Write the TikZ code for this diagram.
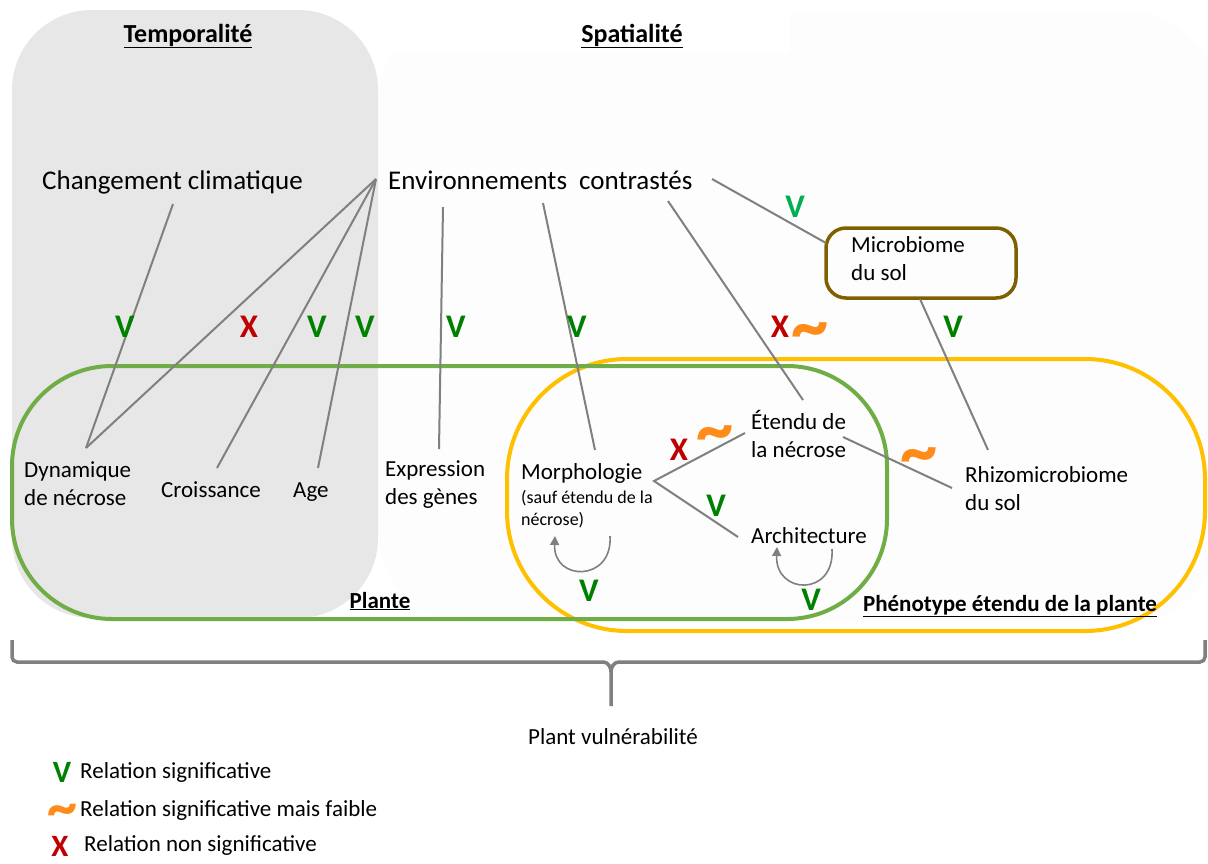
\documentclass[tikz,border=0pt]{standalone}
\usepackage{fontspec}
\setmainfont{Carlito}
\usetikzlibrary{arrows.meta}
\definecolor{tgrey}{HTML}{E7E7E7}
\definecolor{sgrey}{HTML}{FDFDFD}
\definecolor{pgreen}{HTML}{70AD47}
\definecolor{pyellow}{HTML}{FFC000}
\definecolor{mbrown}{HTML}{7F6000}
\definecolor{lgrey}{HTML}{808080}
\definecolor{vgreen}{HTML}{008000}
\definecolor{vlgreen}{HTML}{00B050}
\definecolor{xred}{HTML}{C00000}
\definecolor{worange}{HTML}{FF8C1A}
\newcommand{\wavemark}[1]{\raisebox{-#1}[6pt][6pt]{\scalebox{1.2}[1.25]{\char`\~}}}
\begin{document}
\begin{tikzpicture}[x=1pt,y=-1pt,
  lbl/.style={inner sep=0pt, anchor=west, align=left, font=\fontsize{23}{28}\selectfont},
  lblb/.style={inner sep=0pt, anchor=base west, font=\fontsize{23}{28}\selectfont},
  small/.style={inner sep=0pt, anchor=west, align=left, font=\fontsize{18}{22}\selectfont},
  big/.style={inner sep=0pt, anchor=base west, font=\fontsize{27}{32}\selectfont},
  ttl/.style={inner sep=0pt, anchor=base, font=\fontsize{26}{30}\selectfont\bfseries},
  ttlb/.style={inner sep=0pt, anchor=base, font=\fontsize{23}{28}\selectfont\bfseries},
  link/.style={draw=lgrey, line width=2pt},
  loopar/.style={draw=lgrey, line width=1.6pt, -{Triangle[length=9pt,width=9pt]}},
  sv/.style={inner sep=0pt, text=vgreen, font=\fontsize{33}{36}\selectfont\bfseries},
  svl/.style={inner sep=0pt, text=vlgreen, font=\fontsize{33}{36}\selectfont\bfseries},
  sx/.style={inner sep=0pt, text=xred, font=\fontsize{33}{36}\selectfont\bfseries},
  sw/.style={inner sep=0pt, text=worange, font=\fontsize{62}{62}\selectfont\bfseries},
]
\useasboundingbox (0,0) rectangle (1208,863);
\fill[white] (0,0) rectangle (1208,863);

% backgrounds
\fill[sgrey, rounded corners=85pt] (380,12) rectangle (1215,622);
\fill[tgrey, rounded corners=80pt] (12,10) rectangle (378,618);
\fill[white] (372,12) rectangle (790,53);

% titles
\node[ttl] (temp) at (188,42) {\underline{Temporalité}};
\node[ttl] (spat) at (632,42) {\underline{Spatialité}};

% groups
\draw[pyellow, line width=4pt, rounded corners=120pt] (507,359) rectangle (1205,631);
\draw[pgreen, line width=4pt, rounded corners=100pt] (12,366) rectangle (887,619);
\node[ttlb] (plante) at (380,608) {\underline{Plante}};
\node[ttlb] (pheno) at (1010,611) {\underline{Phénotype étendu de la plante}};

% nodes
\node[big] (chg) at (42,189) {Changement climatique};
\node[big] (env) at (388,189) {Environnements\hspace{0.45em}contrastés};
\node[draw=mbrown, line width=3.5pt, rounded corners=20pt, minimum width=190pt, minimum height=70pt, inner sep=0pt] (micro) at (921,263) {};
\node[lbl] (microtxt) at (851,259) {Microbiome\\du sol};
\node[lbl] (dyn) at (24,484) {Dynamique\\de nécrose};
\node[lblb] (croi) at (161,497) {Croissance};
\node[lblb] (age) at (293,497) {Age};
\node[lbl] (expr) at (385,485) {Expression\\des gènes};
\node[lblb] (morph) at (521,479) {Morphologie};
\node[small] (morphsub) at (521,509) {(sauf étendu de la\\nécrose)};
\node[lbl] (eten) at (751,434) {Étendu de\\la nécrose};
\node[lblb] (arch) at (751,543) {Architecture};
\node[lbl] (rhizo) at (965,489) {Rhizomicrobiome\\du sol};

% connector end points
\coordinate (chgS) at (173,204);
\coordinate (envW) at (376,179);
\coordinate (envE) at (712,179);
\coordinate (envA) at (443,207);
\coordinate (envB) at (543,203);
\coordinate (envC) at (668,201);
\coordinate (dynT) at (86,448);
\coordinate (croiT) at (217,468);
\coordinate (ageT) at (318,468);
\coordinate (exprT) at (439,449);
\coordinate (morphT) at (595,450);
\coordinate (morphE) at (654,481);
\coordinate (etenT) at (803,400);
\coordinate (etenW) at (745,433);
\coordinate (etenE) at (843,437);
\coordinate (archW) at (738,537);
\coordinate (microW) at (826,243);
\coordinate (microS) at (920,299);
\coordinate (rhizoT) at (988,450);
\coordinate (rhizoW) at (952,488);

\draw[link] (chgS) -- (dynT);
\draw[link] (envW) -- (dynT);
\draw[link] (envW) -- (croiT);
\draw[link] (envW) -- (ageT);
\draw[link] (envA) -- (exprT);
\draw[link] (envB) -- (morphT);
\draw[link] (envC) -- (etenT);
\draw[link] (envE) -- (microW);
\draw[link] (microS) -- (rhizoT);
\draw[link] (etenW) -- (morphE) -- (archW);
\draw[link] (etenE) -- (rhizoW);

% self loops
\coordinate (mlA) at (610,536);
\coordinate (mlB) at (555,536);
\coordinate (alA) at (832,549);
\coordinate (alB) at (777,547);
\draw[loopar] (mlA) .. controls (613,582) and (553,582) .. (mlB);
\draw[loopar] (alA) .. controls (835,597) and (775,595) .. (alB);

% relation marks
\node[sv] (s1) at (125,327) {V};
\node[sx] (s2) at (249,327) {X};
\node[sv] (s3) at (317,327) {V};
\node[sv] (s4) at (365,327) {V};
\node[sv] (s5) at (456,327) {V};
\node[sv] (s6) at (577,327) {V};
\node[sx] (s7) at (780,327) {X};
\node[sw] (s8) at (810,330) {\wavemark{21pt}};
\node[sv] (s9) at (953,327) {V};
\node[svl] (s10) at (795,207) {V};
\node[sx] (s11) at (679,450) {X};
\node[sw] (s12) at (715,433) {\wavemark{21pt}};
\node[sv] (s13) at (716,506) {V};
\node[sw] (s14) at (919,455) {\wavemark{21pt}};
\node[sv] (s15) at (589,591) {V};
\node[sv] (s16) at (811,600) {V};

% brace
\coordinate (brL) at (12,640);
\coordinate (brR) at (1205,640);
\coordinate (brM) at (611,706);
\draw[lgrey, line width=3.5pt, rounded corners=5pt] (brL) |- (604,662);
\draw[lgrey, line width=3.5pt, rounded corners=5pt] (brR) |- (618,662);
\draw[lgrey, line width=3.5pt] (603,662) to[out=0,in=90] (611,672) -- (brM);
\draw[lgrey, line width=3.5pt] (619,662) to[out=180,in=90] (611,672);
\node[lbl, anchor=center] (vuln) at (613,737) {Plant vulnérabilité};

% legend
\node[sv, font=\fontsize{31}{34}\selectfont\bfseries] (lv) at (62,772) {V};
\node[lbl] (lvt) at (80,772) {Relation significative};
\node[sw, font=\fontsize{50}{50}\selectfont\bfseries] (lw) at (62,810) {\wavemark{17pt}};
\node[lbl] (lwt) at (80,810) {Relation significative mais faible};
\node[sx, font=\fontsize{31}{34}\selectfont\bfseries] (lx) at (60,846) {X};
\node[lbl] (lxt) at (84,845) {Relation non significative};
\end{tikzpicture}
\end{document}
